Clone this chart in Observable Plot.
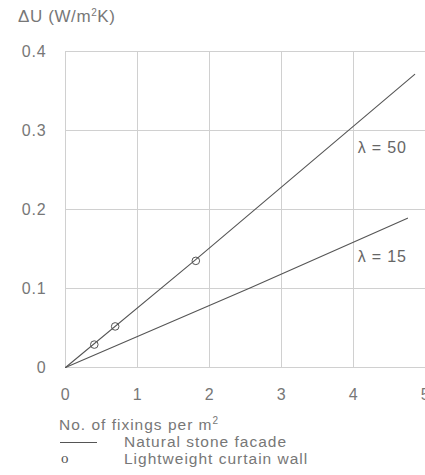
<!DOCTYPE html>
<html>
<head>
<meta charset="utf-8">
<script src="https://cdn.jsdelivr.net/npm/d3@7"></script>
<script src="https://cdn.jsdelivr.net/npm/@observablehq/plot@0.6"></script>
<style>
  body { margin: 0; background: #fff; font-family: "Liberation Sans", Arial, sans-serif; color: #777; }
  #wrap { width: 425px; height: 475px; position: relative; overflow: hidden; }
  #title { position: absolute; left: 18px; top: 7px; font-size: 17px; letter-spacing: 0.6px; white-space: nowrap; }
  #chart { position: absolute; left: 0; top: 28px; }
  #caption { position: absolute; left: 59px; top: 416px; font-size: 15.5px; line-height: 17px; letter-spacing: 1px; white-space: nowrap; width: 366px; }
  sup { font-size: 10px; vertical-align: 6px; line-height: 0; }
  .row { position: relative; height: 17px; }
  .row .lbl { position: absolute; left: 65px; top: 0; }
  .lineKey { position: absolute; left: 1px; top: 9px; width: 37px; border-top: 1px solid #555; }
  .oKey { position: absolute; left: 2px; top: 0px; font-family: "Liberation Serif", "DejaVu Serif", serif; font-size: 15px; color: #555; }
</style>
</head>
<body>
<div id="wrap">
  <div id="title">ΔU (W/m<sup>2</sup>K)</div>
  <div id="chart"></div>
  <div id="caption">
    <div>No. of fixings per m<sup>2</sup></div>
    <div class="row"><span class="lineKey"></span><span class="lbl">Natural stone facade</span></div>
    <div class="row"><span class="oKey">o</span><span class="lbl">Lightweight curtain wall</span></div>
  </div>
</div>
<script>
// Data
const xTicks = [0, 1, 2, 3, 4, 5];
const xTickLabels = ["0", "1", "2", "3", "4", "5"];
const yTicks = [0, 0.1, 0.2, 0.3, 0.4];
const yTickLabels = ["0", "0.1", "0.2", "0.3", "0.4"];

// λ = 50 line
const lambda50X = [0, 1.8, 4.85];
const lambda50Y = [0, 0.136, 0.371];
// λ = 15 line
const lambda15X = [0, 2.57, 4.75];
const lambda15Y = [0, 0.101, 0.189];
// Lightweight curtain wall points
const curtainX = [0.40, 0.69, 1.81];
const curtainY = [0.029, 0.052, 0.135];
// line labels
const labelText = ["λ = 50", "λ = 15"];
const labelX = [4.06, 4.06];
const labelY = [0.278, 0.140];

const line50 = lambda50X.map((x, i) => ({x, y: lambda50Y[i]}));
const line15 = lambda15X.map((x, i) => ({x, y: lambda15Y[i]}));
const curtain = curtainX.map((x, i) => ({x, y: curtainY[i]}));
const labels = labelText.map((t, i) => ({t, x: labelX[i], y: labelY[i]}));

const ink = "#555";
const plot = Plot.plot({
  width: 425,
  height: 384,
  marginLeft: 65,
  marginRight: 0,
  marginTop: 23,
  marginBottom: 45,
  style: { fontFamily: "Liberation Sans, Arial, sans-serif", fontSize: "16px", color: "#777", background: "#fff", letterSpacing: "0.8px", overflow: "visible" },
  x: { domain: [0, 5], ticks: xTicks, tickSize: 0, tickPadding: 21, label: null,
       tickFormat: d => xTickLabels[xTicks.indexOf(d)] },
  y: { domain: [0, 0.4], ticks: yTicks, tickSize: 0, tickPadding: 19, label: null,
       tickFormat: d => yTickLabels[yTicks.indexOf(d)] },
  marks: [
    Plot.gridX(xTicks, { stroke: "#d0d0d0", strokeOpacity: 1 }),
    Plot.gridY(yTicks, { stroke: "#d0d0d0", strokeOpacity: 1 }),
    Plot.line(line50, { x: "x", y: "y", stroke: ink, strokeWidth: 1.1 }),
    Plot.line(line15, { x: "x", y: "y", stroke: ink, strokeWidth: 1.1 }),
    Plot.dot(curtain, { x: "x", y: "y", r: 3.8, stroke: ink, strokeWidth: 1, fill: "none" }),
    Plot.text(labels, { x: "x", y: "y", text: "t", textAnchor: "start", fill: "#666", fontSize: 16 })
  ]
});
document.getElementById("chart").appendChild(plot);
</script>
</body>
</html>
